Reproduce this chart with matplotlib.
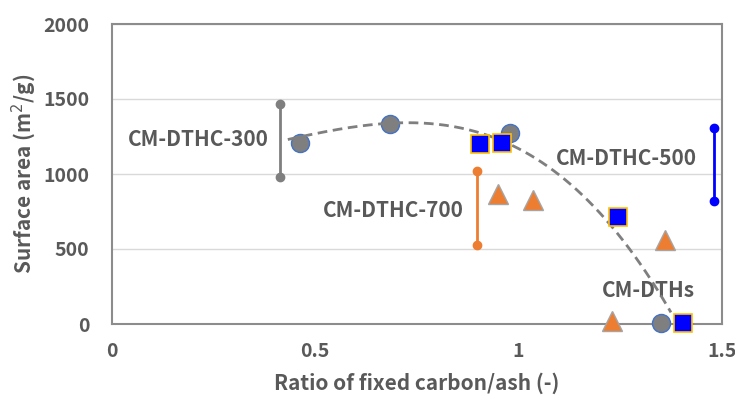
import numpy as np
import matplotlib.pyplot as plt

plt.rcParams['font.family'] = ['Noto Sans CJK KR', 'DejaVu Sans']

# 데이터
dths_x = [0.462, 0.684, 0.979, 1.351]
dths_y = [1210, 1333, 1273, 10]

dthc500_x = [0.906, 0.959, 1.244, 1.404]
dthc500_y = [1200, 1205, 715, 10]

dthc700_x = [0.950, 1.035, 1.229, 1.360]
dthc700_y = [870, 827, 18, 560]

range_x = [0.413, 0.897, 1.480]
range_lo = [980, 530, 820]
range_hi = [1470, 1020, 1310]
range_col = ['#7f7f7f', '#ed7d31', '#0000ff']

# 추세선 (그림에서 읽은 점)
trend_x = [0.433, 0.725, 0.922, 0.954, 1.045, 1.224, 1.306, 1.372]
trend_y = [1227, 1353, 1273, 1227, 1047, 713, 380, 73]

labels = ['CM-DTHC-300', 'CM-DTHC-700', 'CM-DTHC-500', 'CM-DTHs']
label_x = [0.385, 0.865, 1.44, 1.32]
label_y = [1230, 755, 1105, 225]
label_ha = ['right', 'right', 'right', 'center']

txt = '#595959'

fig = plt.figure(figsize=(7.35, 4.0), dpi=100)
ax = fig.add_axes([0.152, 0.19, 0.83, 0.75])

for x, lo, hi, c in zip(range_x, range_lo, range_hi, range_col):
    ax.plot([x, x], [lo, hi], color=c, lw=2, marker='o', ms=6, zorder=3)

coef = np.polyfit(trend_x, trend_y, 3)
xs = np.linspace(0.433, 1.375, 200)
ax.plot(xs, np.polyval(coef, xs), color='#7f7f7f', lw=2, ls=(0, (3.5, 2)), zorder=5)

ax.plot(dths_x, dths_y, 'o', ms=13, mfc='#7f7f7f', mec='#4472c4', mew=1, zorder=4, clip_on=False)
ax.plot(dthc700_x, dthc700_y, '^', ms=14, mfc='#ed7d31', mec='#a5a5a5', mew=1, zorder=4, clip_on=False)
ax.plot(dthc500_x, dthc500_y, 's', ms=12.5, mfc='#0000ff', mec='#ffc000', mew=1.2, zorder=6, clip_on=False)

for t, x, y, ha in zip(labels, label_x, label_y, label_ha):
    ax.text(x, y, t, ha=ha, va='center', fontsize=15, fontweight='bold', color=txt)

ax.set_xlim(0, 1.5)
ax.set_ylim(0, 2000)
ax.set_xticks([0, 0.5, 1, 1.5])
ax.set_xticklabels(['0', '0.5', '1', '1.5'])
ax.set_yticks([0, 500, 1000, 1500, 2000])
ax.tick_params(length=0, labelsize=14, labelcolor=txt)
ax.tick_params(axis='x', pad=13)
ax.tick_params(axis='y', pad=16)
for lab in ax.get_xticklabels() + ax.get_yticklabels():
    lab.set_fontweight('bold')

ax.grid(axis='y', color='#d9d9d9', lw=1)
ax.set_axisbelow(True)
for s in ax.spines.values():
    s.set_color('#8c8c8c')
    s.set_linewidth(1.5)

ax.set_xlabel('Ratio of fixed carbon/ash (-)', fontsize=15, fontweight='bold', color=txt, labelpad=8)
ax.set_ylabel('Surface area (m$^2$/g)', fontsize=15, fontweight='bold', color=txt, labelpad=4)

fig.savefig('out.png', dpi=100)
